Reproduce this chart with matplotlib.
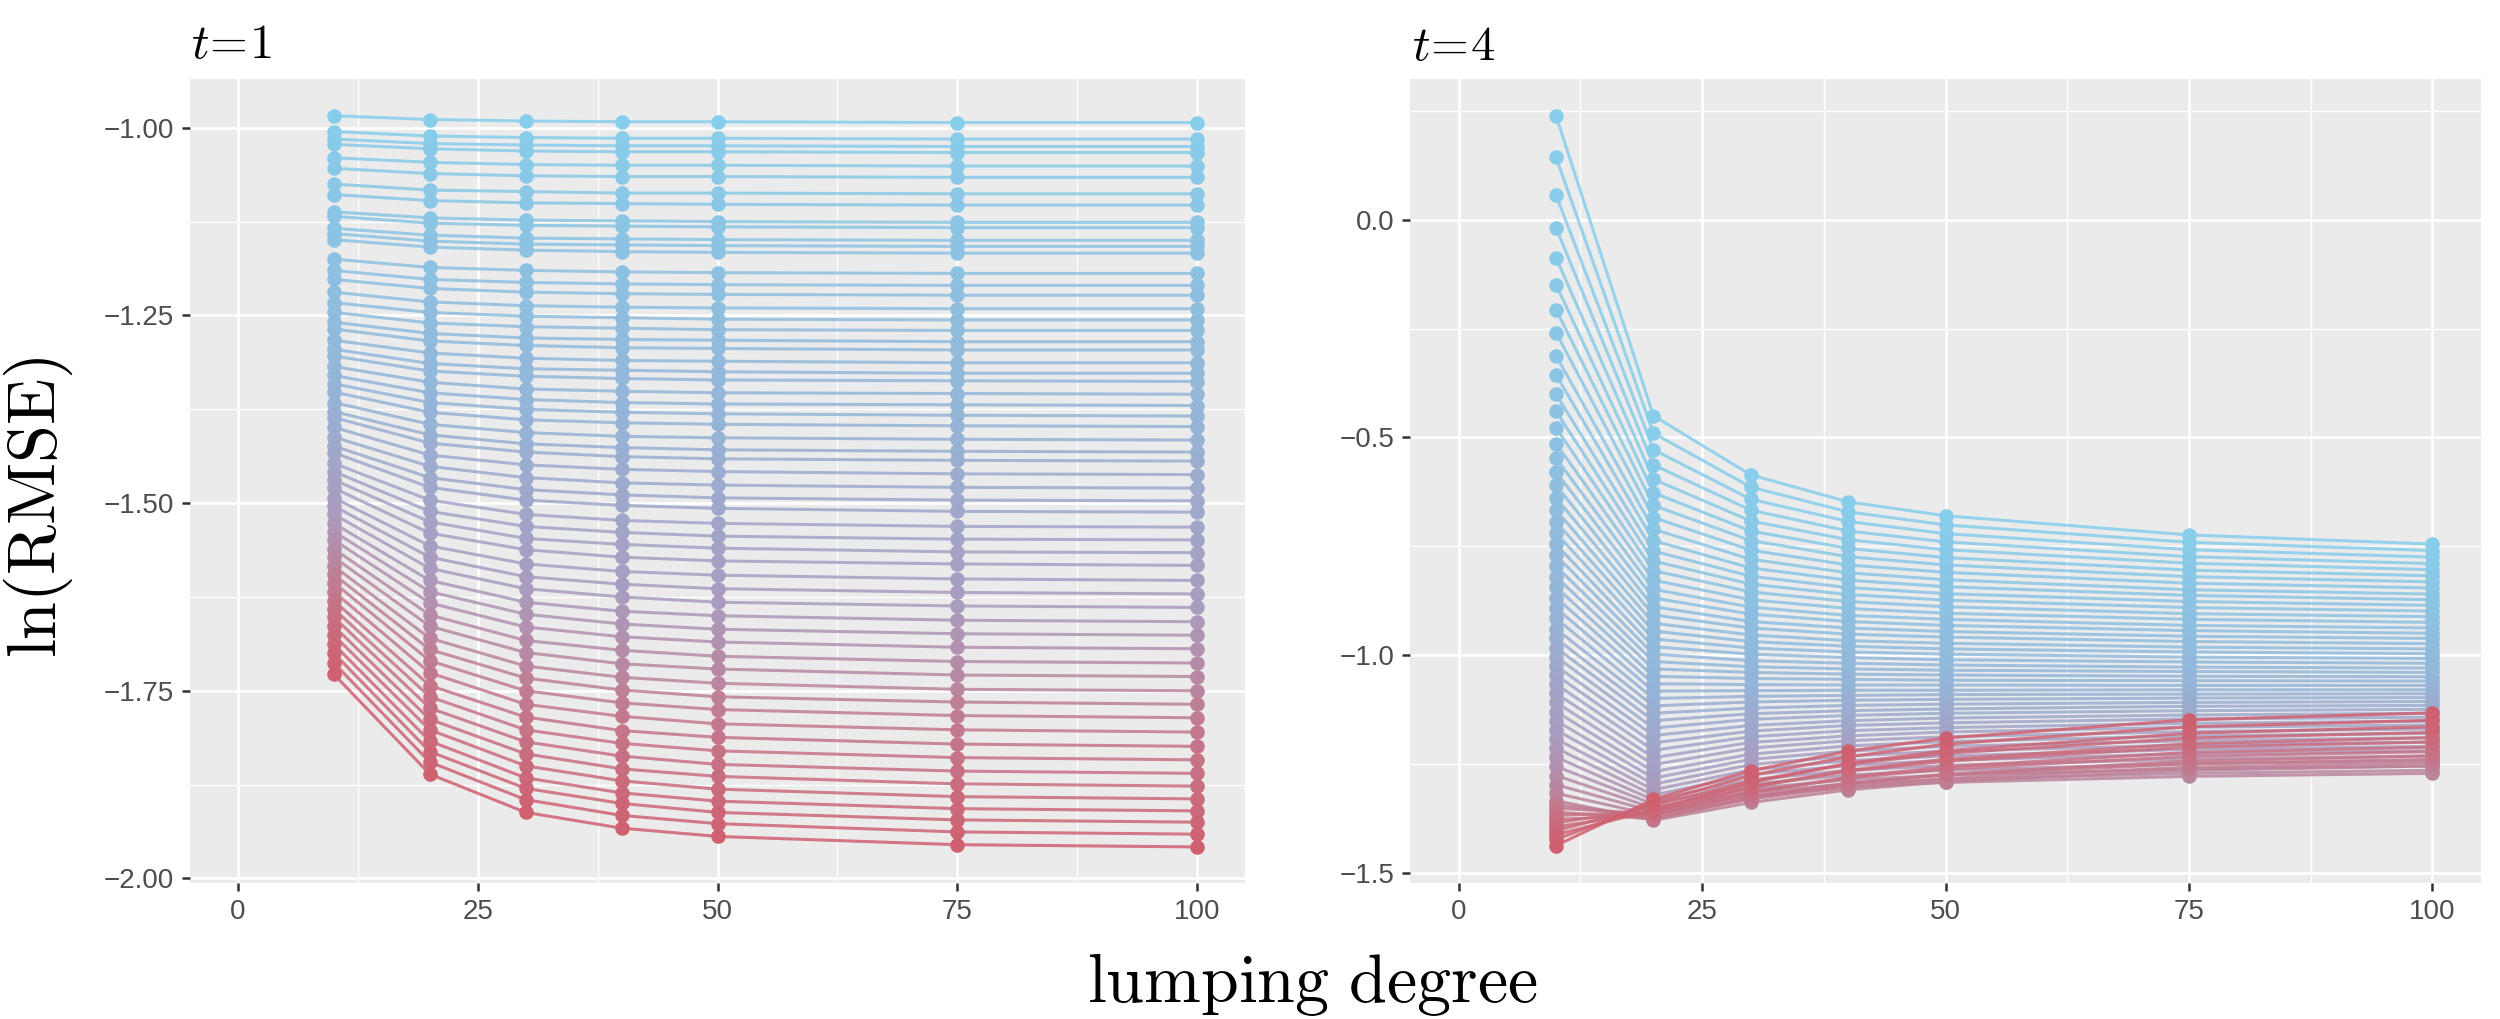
import matplotlib.pyplot as plt
from matplotlib.colors import LinearSegmentedColormap
import numpy as np

plt.rcParams['mathtext.fontset'] = 'cm'
plt.rcParams['font.family'] = ['Liberation Sans', 'DejaVu Sans']

# lumping degrees on the x axis
lumping = [10, 20, 30, 40, 50, 75, 100]

# t = 1 panel, one list per lumping degree, one value per curve (blue -> red)
left_10 = [-0.984, -1.005, -1.015, -1.022, -1.040, -1.054, -1.075, -1.089, -1.112, -1.118,
           -1.134, -1.141, -1.149, -1.175, -1.190, -1.202, -1.219, -1.233, -1.246, -1.259,
           -1.268, -1.283, -1.295, -1.304, -1.318, -1.330, -1.341, -1.352, -1.366, -1.378,
           -1.386, -1.399, -1.412, -1.424, -1.433, -1.447, -1.458, -1.469, -1.480, -1.493,
           -1.504, -1.515, -1.527, -1.538, -1.549, -1.561, -1.572, -1.584, -1.595, -1.606,
           -1.618, -1.630, -1.641, -1.652, -1.664, -1.676, -1.688, -1.700, -1.713, -1.728]
left_20 = [-0.989, -1.011, -1.021, -1.028, -1.046, -1.061, -1.083, -1.097, -1.120, -1.127,
           -1.143, -1.151, -1.159, -1.186, -1.202, -1.214, -1.232, -1.246, -1.260, -1.274,
           -1.284, -1.300, -1.314, -1.324, -1.339, -1.353, -1.366, -1.379, -1.395, -1.409,
           -1.420, -1.436, -1.451, -1.466, -1.479, -1.496, -1.511, -1.525, -1.540, -1.557,
           -1.572, -1.587, -1.603, -1.618, -1.633, -1.649, -1.664, -1.680, -1.695, -1.710,
           -1.726, -1.743, -1.758, -1.773, -1.788, -1.802, -1.817, -1.831, -1.845, -1.861]
left_30 = [-0.991, -1.013, -1.023, -1.031, -1.049, -1.064, -1.085, -1.100, -1.123, -1.130,
           -1.147, -1.155, -1.163, -1.190, -1.206, -1.219, -1.237, -1.251, -1.265, -1.280,
           -1.290, -1.307, -1.321, -1.331, -1.348, -1.362, -1.375, -1.389, -1.406, -1.421,
           -1.432, -1.449, -1.466, -1.482, -1.496, -1.515, -1.531, -1.547, -1.562, -1.581,
           -1.598, -1.614, -1.632, -1.648, -1.665, -1.683, -1.699, -1.717, -1.733, -1.750,
           -1.768, -1.785, -1.802, -1.818, -1.834, -1.850, -1.866, -1.880, -1.895, -1.912]
left_40 = [-0.992, -1.014, -1.024, -1.032, -1.050, -1.065, -1.087, -1.101, -1.124, -1.131,
           -1.148, -1.156, -1.165, -1.192, -1.208, -1.221, -1.239, -1.253, -1.267, -1.282,
           -1.293, -1.310, -1.323, -1.334, -1.351, -1.366, -1.379, -1.393, -1.411, -1.426,
           -1.438, -1.455, -1.473, -1.489, -1.503, -1.523, -1.539, -1.555, -1.572, -1.591,
           -1.608, -1.625, -1.644, -1.661, -1.678, -1.696, -1.714, -1.732, -1.749, -1.766,
           -1.784, -1.803, -1.820, -1.837, -1.854, -1.870, -1.886, -1.900, -1.916, -1.933]
left_50 = [-0.992, -1.014, -1.024, -1.032, -1.050, -1.065, -1.087, -1.102, -1.125, -1.132,
           -1.149, -1.157, -1.166, -1.193, -1.209, -1.222, -1.240, -1.255, -1.269, -1.283,
           -1.294, -1.311, -1.325, -1.336, -1.353, -1.368, -1.381, -1.395, -1.413, -1.429,
           -1.441, -1.458, -1.476, -1.493, -1.507, -1.527, -1.544, -1.560, -1.577, -1.596,
           -1.614, -1.632, -1.650, -1.668, -1.685, -1.704, -1.721, -1.740, -1.758, -1.775,
           -1.794, -1.812, -1.830, -1.848, -1.864, -1.881, -1.897, -1.912, -1.927, -1.944]
left_75 = [-0.993, -1.015, -1.025, -1.033, -1.051, -1.066, -1.088, -1.103, -1.126, -1.133,
           -1.150, -1.158, -1.167, -1.194, -1.210, -1.223, -1.241, -1.256, -1.270, -1.285,
           -1.296, -1.313, -1.327, -1.337, -1.354, -1.369, -1.383, -1.397, -1.415, -1.431,
           -1.443, -1.461, -1.479, -1.496, -1.511, -1.531, -1.548, -1.565, -1.581, -1.601,
           -1.619, -1.637, -1.656, -1.674, -1.692, -1.711, -1.729, -1.748, -1.765, -1.783,
           -1.802, -1.821, -1.839, -1.857, -1.874, -1.891, -1.907, -1.922, -1.938, -1.955]
left_100 = [-0.993, -1.015, -1.025, -1.033, -1.051, -1.066, -1.088, -1.103, -1.126, -1.133,
            -1.150, -1.158, -1.167, -1.194, -1.210, -1.223, -1.241, -1.256, -1.270, -1.285,
            -1.296, -1.313, -1.327, -1.338, -1.355, -1.370, -1.384, -1.398, -1.416, -1.432,
            -1.444, -1.462, -1.480, -1.497, -1.512, -1.532, -1.549, -1.566, -1.583, -1.603,
            -1.621, -1.639, -1.658, -1.676, -1.694, -1.713, -1.731, -1.750, -1.768, -1.786,
            -1.805, -1.824, -1.842, -1.860, -1.877, -1.894, -1.910, -1.925, -1.941, -1.958]

# t = 4 panel
right_10 = [0.239, 0.144, 0.057, -0.018, -0.087, -0.149, -0.206, -0.259, -0.312, -0.356,
            -0.401, -0.440, -0.478, -0.514, -0.548, -0.580, -0.610, -0.639, -0.667, -0.694,
            -0.720, -0.746, -0.771, -0.796, -0.820, -0.844, -0.868, -0.892, -0.916, -0.940,
            -0.962, -0.983, -1.004, -1.025, -1.046, -1.067, -1.088, -1.109, -1.130, -1.151,
            -1.172, -1.193, -1.214, -1.235, -1.256, -1.277, -1.298, -1.318, -1.335, -1.344,
            -1.352, -1.361, -1.369, -1.378, -1.386, -1.395, -1.404, -1.413, -1.424, -1.438]
right_20 = [-0.450, -0.490, -0.528, -0.563, -0.596, -0.627, -0.656, -0.684, -0.711, -0.737,
            -0.761, -0.784, -0.806, -0.828, -0.849, -0.869, -0.889, -0.908, -0.927, -0.945,
            -0.963, -0.981, -0.998, -1.015, -1.032, -1.049, -1.066, -1.083, -1.100, -1.117,
            -1.134, -1.151, -1.168, -1.185, -1.202, -1.219, -1.236, -1.252, -1.268, -1.283,
            -1.297, -1.310, -1.322, -1.333, -1.343, -1.352, -1.360, -1.368, -1.380, -1.372,
            -1.365, -1.377, -1.360, -1.368, -1.352, -1.361, -1.345, -1.356, -1.340, -1.332]
right_30 = [-0.586, -0.614, -0.642, -0.667, -0.692, -0.715, -0.737, -0.759, -0.780, -0.800,
            -0.819, -0.837, -0.855, -0.873, -0.890, -0.906, -0.923, -0.938, -0.954, -0.969,
            -0.984, -0.998, -1.013, -1.027, -1.040, -1.054, -1.068, -1.082, -1.095, -1.108,
            -1.122, -1.135, -1.148, -1.162, -1.175, -1.188, -1.201, -1.214, -1.228, -1.240,
            -1.252, -1.264, -1.275, -1.287, -1.297, -1.307, -1.316, -1.324, -1.339, -1.331,
            -1.324, -1.329, -1.314, -1.317, -1.302, -1.305, -1.290, -1.293, -1.277, -1.266]
right_40 = [-0.648, -0.671, -0.693, -0.715, -0.735, -0.755, -0.774, -0.793, -0.811, -0.828,
            -0.845, -0.861, -0.877, -0.893, -0.909, -0.923, -0.938, -0.952, -0.967, -0.980,
            -0.993, -1.006, -1.019, -1.032, -1.044, -1.056, -1.069, -1.081, -1.093, -1.104,
            -1.116, -1.128, -1.139, -1.151, -1.162, -1.174, -1.186, -1.197, -1.209, -1.221,
            -1.232, -1.243, -1.254, -1.265, -1.276, -1.287, -1.296, -1.304, -1.310, -1.303,
            -1.295, -1.296, -1.283, -1.281, -1.267, -1.265, -1.251, -1.249, -1.234, -1.221]
right_50 = [-0.680, -0.701, -0.721, -0.740, -0.758, -0.776, -0.793, -0.810, -0.827, -0.843,
            -0.859, -0.874, -0.889, -0.904, -0.918, -0.932, -0.946, -0.959, -0.973, -0.986,
            -0.998, -1.011, -1.023, -1.035, -1.046, -1.058, -1.069, -1.081, -1.091, -1.102,
            -1.113, -1.124, -1.134, -1.145, -1.156, -1.167, -1.177, -1.188, -1.199, -1.210,
            -1.221, -1.232, -1.242, -1.254, -1.265, -1.276, -1.286, -1.293, -1.291, -1.284,
            -1.276, -1.274, -1.262, -1.257, -1.244, -1.240, -1.226, -1.220, -1.205, -1.191]
right_75 = [-0.724, -0.741, -0.758, -0.774, -0.789, -0.805, -0.820, -0.835, -0.850, -0.863,
            -0.877, -0.891, -0.905, -0.918, -0.932, -0.944, -0.957, -0.969, -0.982, -0.993,
            -1.005, -1.016, -1.028, -1.038, -1.049, -1.059, -1.070, -1.080, -1.090, -1.099,
            -1.109, -1.118, -1.128, -1.138, -1.147, -1.157, -1.166, -1.176, -1.186, -1.197,
            -1.207, -1.217, -1.227, -1.239, -1.250, -1.262, -1.272, -1.279, -1.265, -1.258,
            -1.250, -1.244, -1.233, -1.224, -1.212, -1.204, -1.191, -1.180, -1.165, -1.149]
right_100 = [-0.745, -0.760, -0.775, -0.790, -0.804, -0.818, -0.832, -0.846, -0.860, -0.873,
             -0.886, -0.899, -0.912, -0.925, -0.938, -0.950, -0.962, -0.974, -0.986, -0.997,
             -1.008, -1.019, -1.030, -1.040, -1.050, -1.060, -1.070, -1.080, -1.089, -1.098,
             -1.107, -1.116, -1.125, -1.134, -1.143, -1.152, -1.161, -1.170, -1.180, -1.190,
             -1.200, -1.210, -1.220, -1.232, -1.243, -1.255, -1.265, -1.272, -1.255, -1.248,
             -1.240, -1.232, -1.222, -1.212, -1.200, -1.190, -1.178, -1.165, -1.150, -1.133]

left_cols = [left_10, left_20, left_30, left_40, left_50, left_75, left_100]
right_cols = [right_10, right_20, right_30, right_40, right_50, right_75, right_100]

cmap = LinearSegmentedColormap.from_list(
    'blue_red', [(0.0, '#87CEEB'), (0.45, '#94B4D7'), (0.7, '#AA9BBE'),
                 (0.85, '#C3788C'), (1.0, '#CF6070')])


def draw_panel(ax, cols, ylim, yticks, yminor, decimals):
    ax.set_facecolor('#EBEBEB')
    for sp in ax.spines.values():
        sp.set_visible(False)

    curves = np.array(cols).T
    n = len(curves)
    colors = [cmap(i / (n - 1)) for i in range(n)]
    for y, c in zip(curves, colors):
        ax.plot(lumping, y, color=c, lw=2.2, alpha=0.85, zorder=2)
    for y, c in zip(curves, colors):
        ax.plot(lumping, y, 'o', color=c, ms=10.5, mew=0, zorder=3)

    ax.set_xlim(-5, 105)
    ax.set_ylim(*ylim)
    ax.set_xticks([0, 25, 50, 75, 100])
    ax.set_xticks([12.5, 37.5, 62.5, 87.5], minor=True)
    ax.set_yticks(yticks)
    ax.set_yticklabels([f'{v:.{decimals}f}'.replace('-', '\u2212') for v in yticks])
    ax.set_yticks(yminor, minor=True)

    ax.set_axisbelow(True)
    ax.grid(which='major', color='white', lw=1.9)
    ax.grid(which='minor', color='white', lw=0.95)
    ax.tick_params(which='major', length=5.5, width=1.8, color='#333333',
                   labelsize=20, labelcolor='#4D4D4D', pad=6)
    ax.tick_params(which='minor', length=0)


fig = plt.figure(figsize=(25, 10.19), dpi=100)
ax1 = fig.add_axes([0.076, 0.1335, 0.422, 0.789])
ax2 = fig.add_axes([0.564, 0.1335, 0.4284, 0.789])

draw_panel(ax1, left_cols, (-2.006, -0.935),
           [-1.0, -1.25, -1.5, -1.75, -2.0], [-1.125, -1.375, -1.625, -1.875], 2)
draw_panel(ax2, right_cols, (-1.524, 0.324),
           [0.0, -0.5, -1.0, -1.5], [0.25, -0.25, -0.75, -1.25], 1)

fig.text(0.0764, 0.943, r'$t\!=\!1$', fontsize=35, ha='left', va='baseline')
fig.text(0.565, 0.941, r'$t\!=\!4$', fontsize=35, ha='left', va='baseline')
fig.text(0.5248, 0.0167, r'$\mathrm{lumping\ degree}$', fontsize=49,
         ha='center', va='baseline')
fig.text(0.0152, 0.5025, r'$\mathrm{ln(RMSE)}$', fontsize=49, rotation=90,
         ha='center', va='center')

fig.savefig('out.png', dpi=100, facecolor='white')
